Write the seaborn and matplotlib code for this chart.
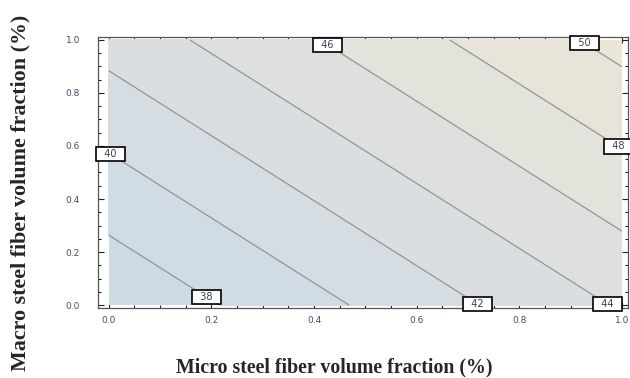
import numpy as np
import matplotlib
matplotlib.use("Agg")
import matplotlib.pyplot as plt
from matplotlib.colors import LinearSegmentedColormap
from matplotlib.ticker import MultipleLocator
import seaborn as sns

# ---- data ----
micro = [0.0, 1.0]            # micro steel fiber volume fraction (%)
macro = [0.0, 1.0]            # macro steel fiber volume fraction (%)
strength = [[36.3, 44.2],     # rows: macro, cols: micro
            [42.75, 50.65]]
levels = [38, 40, 42, 44, 46, 48, 50]
fill_levels = [36, 38, 40, 42, 44, 46, 48, 50, 52]
xticks = [0.0, 0.2, 0.4, 0.6, 0.8, 1.0]
yticks = [0.0, 0.2, 0.4, 0.6, 0.8, 1.0]
label_spots = [(0.19, 0.03), (0.005, 0.574), (0.72, 0.005), (0.973, 0.005),
               (0.427, 0.985), (0.99, 0.59), (0.928, 0.99)]

sns.set_theme(style="white")
plt.rcParams['font.family'] = ['DejaVu Sans']

fig = plt.figure(figsize=(6.3, 3.78), dpi=100)
ax = fig.add_axes([98/630, 1-308/378, (628-98)/630, (308-37)/378])

X, Y = np.meshgrid(micro, macro)
Z = np.array(strength)
cmap = LinearSegmentedColormap.from_list("m", ["#c9d9e6", "#dcdfdf", "#efe7d5"])
ax.contourf(X, Y, Z, levels=fill_levels, cmap=cmap)
cs = ax.contour(X, Y, Z, levels=levels, colors="#8e9796", linewidths=0.9)
texts = ax.clabel(cs, levels, manual=label_spots, inline=False,
                  fmt=lambda v: f"  {v:.0f}  ", fontsize=7, colors="#3c3c55")
for t in texts:
    t.set_rotation(0)
    t.set_bbox(dict(boxstyle="square,pad=0.22", fc="white", ec="black", lw=1.2))
    t.set_clip_on(False)

ax.set_xlim(-0.021, 1.012)
ax.set_ylim(-0.011, 1.011)
ax.set_facecolor("white")
ax.set_xticks(xticks)
ax.set_yticks(yticks)
ax.set_xticklabels([f"{v:.1f}" for v in xticks])
ax.set_yticklabels([f"{v:.1f}" for v in yticks])
ax.xaxis.set_minor_locator(MultipleLocator(0.05))
ax.yaxis.set_minor_locator(MultipleLocator(0.05))
ax.tick_params(which="both", direction="in", top=True, right=True,
               bottom=True, left=True, color="#222222", width=0.8)
ax.tick_params(which="major", length=4, labelsize=6.5, labelcolor="#4a4a66")
ax.tick_params(which="minor", length=2)
ax.tick_params(axis="x", pad=6)
ax.tick_params(axis="y", pad=13)
for s in ax.spines.values():
    s.set_color("#555555")
    s.set_linewidth(0.9)

fig.text(20/630, 1-193/378, "Macro steel fiber volume fraction (%)",
         rotation=90, ha="center", va="center", fontsize=15.8,
         fontweight="bold", family="Liberation Serif")
fig.text(334/630, 1-367/378, "Micro steel fiber volume fraction (%)",
         ha="center", va="center", fontsize=14.3, fontweight="bold",
         family="Liberation Serif")

fig.savefig("out.png", dpi=100)
